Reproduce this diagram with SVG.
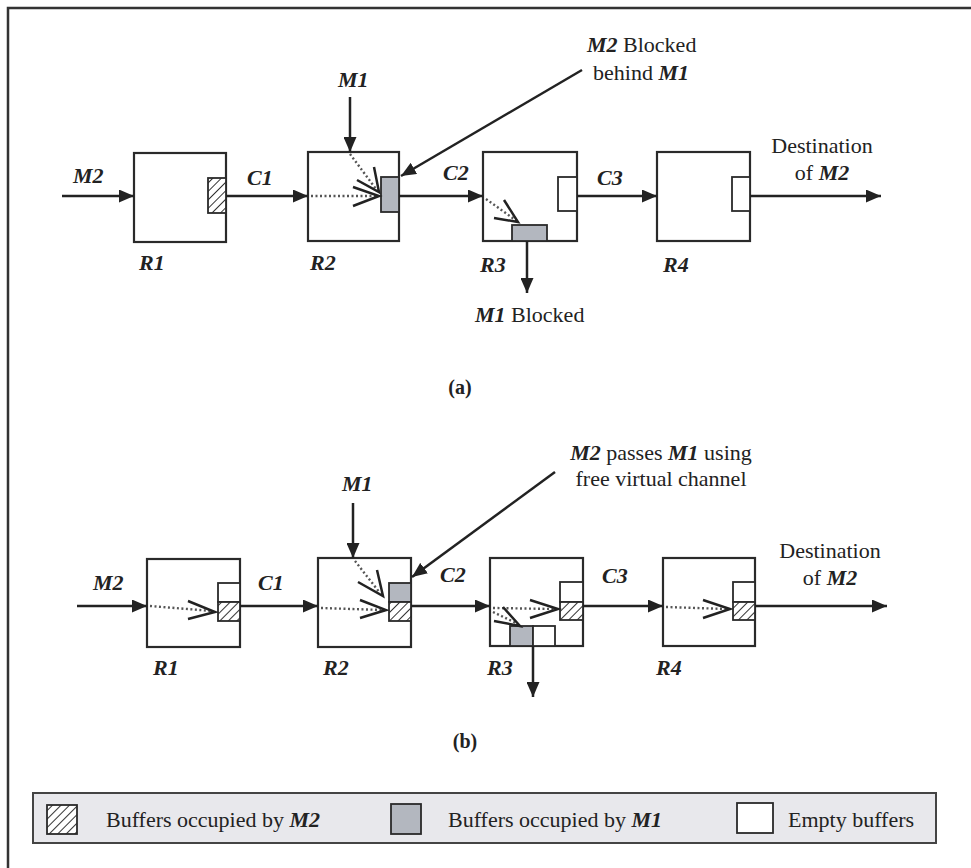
<svg xmlns="http://www.w3.org/2000/svg" width="971" height="868" viewBox="0 0 971 868">
<style>
.box{fill:#fff;stroke:#2a2a2a;stroke-width:2.2}
.buf{stroke:#2a2a2a;stroke-width:1.8}
.empty{fill:#fff}
.gray{fill:#b3b7bf}
.hatch{fill:url(#hatch)}
.conn{fill:none;stroke:#222;stroke-width:2.5}
.dot{fill:none;stroke:#555;stroke-width:2.4;stroke-dasharray:2 2.5}
.chev{fill:none;stroke:#222;stroke-width:2.5}
.lbl{font-family:"Liberation Serif","Times New Roman",serif;font-style:italic;font-weight:bold;font-size:22px;fill:#222}
.txt{font-family:"Liberation Serif","Times New Roman",serif;font-size:22px;fill:#222}
.bi{font-style:italic;font-weight:bold}
.cap{font-family:"Liberation Serif","Times New Roman",serif;font-weight:bold;font-size:20px;fill:#222}
</style>
<defs>
<pattern id="hatch" patternUnits="userSpaceOnUse" width="6" height="6" patternTransform="rotate(45)">
<rect width="6" height="6" fill="#fff"/>
<line x1="0" y1="0" x2="0" y2="6" stroke="#333" stroke-width="2"/>
</pattern>
<marker id="arr" markerUnits="userSpaceOnUse" markerWidth="16" markerHeight="13" refX="15" refY="6.5" orient="auto">
<path d="M0,0 L15,6.5 L0,13 z" fill="#222"/>
</marker>
</defs>
<rect x="0" y="0" width="971" height="868" fill="#fff"/>
<path d="M8,868 V8 H971" fill="none" stroke="#333" stroke-width="2.5"/>

<!-- ===== (a) ===== -->
<g id="a-R1">
<rect class="box" x="134" y="153" width="92" height="89"/>
<rect class="buf hatch" x="208" y="178" width="18" height="35"/>
<text class="lbl" x="139" y="270">R1</text>
</g>
<g id="a-R2">
<rect class="box" x="308" y="152" width="91" height="89"/>
<rect class="buf gray" x="381" y="177" width="18" height="35"/>
<path class="dot" d="M311,196 H376"/>
<path class="chev" d="M353,187 L379,196 L353,206"/>
<path class="dot" d="M350,154 L376,189"/>
<path class="chev" d="M374,167 L379,192 L357,180"/>
<text class="lbl" x="310" y="270">R2</text>
</g>
<g id="a-R3">
<rect class="box" x="483" y="152" width="94" height="89"/>
<rect class="buf empty" x="558" y="177" width="19" height="34"/>
<rect class="buf gray" x="512" y="225" width="35" height="16"/>
<path class="dot" d="M486,199 L514,219"/>
<path class="chev" d="M504,200 L518,222 L494,218"/>
<text class="lbl" x="480" y="272">R3</text>
</g>
<g id="a-R4">
<rect class="box" x="657" y="152" width="93" height="89"/>
<rect class="buf empty" x="732" y="177" width="18" height="34"/>
<text class="lbl" x="663" y="272">R4</text>
</g>
<g id="a-texts">
<text class="lbl" x="73" y="183">M2</text>
<text class="lbl" x="247" y="185">C1</text>
<text class="lbl" x="443" y="180">C2</text>
<text class="lbl" x="597" y="185">C3</text>
<text class="lbl" x="338" y="87">M1</text>
<text class="txt" x="587" y="52"><tspan class="bi">M2</tspan> Blocked</text>
<text class="txt" x="593" y="80">behind <tspan class="bi">M1</tspan></text>
<text class="txt" x="475" y="322"><tspan class="bi">M1</tspan> Blocked</text>
<text class="txt" x="822" y="153" text-anchor="middle">Destination</text>
<text class="txt" x="822" y="180" text-anchor="middle">of <tspan class="bi">M2</tspan></text>
<text class="cap" x="460" y="394" text-anchor="middle">(a)</text>
</g>

<!-- ===== (b) ===== -->
<g id="b-R1">
<rect class="box" x="147" y="559" width="93" height="88"/>
<rect class="buf empty" x="218" y="583" width="22" height="19"/>
<rect class="buf hatch" x="218" y="602" width="22" height="19"/>
<path class="dot" d="M150,606 L212,611"/>
<path class="chev" d="M188,601 L215,612 L188,619"/>
<text class="lbl" x="153" y="675">R1</text>
</g>
<g id="b-R2">
<rect class="box" x="318" y="558" width="93" height="89"/>
<rect class="buf gray" x="389" y="583" width="22" height="19"/>
<rect class="buf hatch" x="389" y="602" width="22" height="19"/>
<path class="dot" d="M321,608 L383,610"/>
<path class="chev" d="M360,600 L386,610 L360,618"/>
<path class="dot" d="M355,561 L380,593"/>
<path class="chev" d="M377,570 L383,596 L358,582"/>
<text class="lbl" x="323" y="675">R2</text>
</g>
<g id="b-R3">
<rect class="box" x="490" y="558" width="93" height="88"/>
<rect class="buf empty" x="560" y="582" width="23" height="20"/>
<rect class="buf hatch" x="560" y="602" width="23" height="18"/>
<rect class="buf gray" x="510" y="626" width="23" height="20"/>
<rect class="buf empty" x="533" y="626" width="22" height="20"/>
<path class="dot" d="M493,608 L555,609"/>
<path class="chev" d="M530,600 L558,609 L530,618"/>
<path class="dot" d="M493,612 L516,623"/>
<path class="chev" d="M503,607 L520,626 L494,621"/>
<text class="lbl" x="487" y="675">R3</text>
</g>
<g id="b-R4">
<rect class="box" x="663" y="558" width="92" height="88"/>
<rect class="buf empty" x="733" y="582" width="22" height="20"/>
<rect class="buf hatch" x="733" y="602" width="22" height="18"/>
<path class="dot" d="M666,607 L727,609"/>
<path class="chev" d="M703,600 L730,609 L703,618"/>
<text class="lbl" x="656" y="675">R4</text>
</g>
<g id="b-texts">
<text class="lbl" x="93" y="590">M2</text>
<text class="lbl" x="258" y="590">C1</text>
<text class="lbl" x="440" y="582">C2</text>
<text class="lbl" x="602" y="583">C3</text>
<text class="lbl" x="342" y="491">M1</text>
<text class="txt" x="661" y="460" text-anchor="middle"><tspan class="bi">M2</tspan> passes <tspan class="bi">M1</tspan> using</text>
<text class="txt" x="661" y="486" text-anchor="middle">free virtual channel</text>
<text class="txt" x="830" y="558" text-anchor="middle">Destination</text>
<text class="txt" x="830" y="585" text-anchor="middle">of <tspan class="bi">M2</tspan></text>
<text class="cap" x="465" y="748" text-anchor="middle">(b)</text>
</g>

<!-- ===== connectors ===== -->
<g id="connectors">
<line class="conn" x1="62" y1="196" x2="134" y2="196" marker-end="url(#arr)"/>
<line class="conn" x1="226" y1="196" x2="308" y2="196" marker-end="url(#arr)"/>
<line class="conn" x1="399" y1="196" x2="483" y2="196" marker-end="url(#arr)"/>
<line class="conn" x1="577" y1="196" x2="657" y2="196" marker-end="url(#arr)"/>
<line class="conn" x1="750" y1="196" x2="881" y2="196" marker-end="url(#arr)"/>
<line class="conn" x1="350" y1="97" x2="350" y2="152" marker-end="url(#arr)"/>
<line class="conn" x1="527" y1="241" x2="527" y2="293" marker-end="url(#arr)"/>
<line class="conn" x1="582" y1="70" x2="401" y2="176" marker-end="url(#arr)"/>

<line class="conn" x1="77" y1="606" x2="147" y2="606" marker-end="url(#arr)"/>
<line class="conn" x1="240" y1="606" x2="318" y2="606" marker-end="url(#arr)"/>
<line class="conn" x1="411" y1="606" x2="490" y2="606" marker-end="url(#arr)"/>
<line class="conn" x1="583" y1="606" x2="663" y2="606" marker-end="url(#arr)"/>
<line class="conn" x1="755" y1="606" x2="887" y2="606" marker-end="url(#arr)"/>
<line class="conn" x1="353" y1="503" x2="353" y2="558" marker-end="url(#arr)"/>
<line class="conn" x1="533" y1="646" x2="533" y2="697" marker-end="url(#arr)"/>
<line class="conn" x1="555" y1="472" x2="412" y2="577" marker-end="url(#arr)"/>
</g>

<!-- ===== legend ===== -->
<g id="legend">
<rect x="33" y="793" width="903" height="50" fill="#e8e8ec" stroke="#444" stroke-width="2"/>
<rect class="buf hatch" x="47" y="805" width="30" height="29"/>
<text class="txt" x="106" y="827">Buffers occupied by <tspan class="bi">M2</tspan></text>
<rect class="buf gray" x="391" y="804" width="30" height="30"/>
<text class="txt" x="448" y="827">Buffers occupied by <tspan class="bi">M1</tspan></text>
<rect class="buf empty" x="737" y="803" width="36" height="30"/>
<text class="txt" x="788" y="827">Empty buffers</text>
</g>
</svg>
